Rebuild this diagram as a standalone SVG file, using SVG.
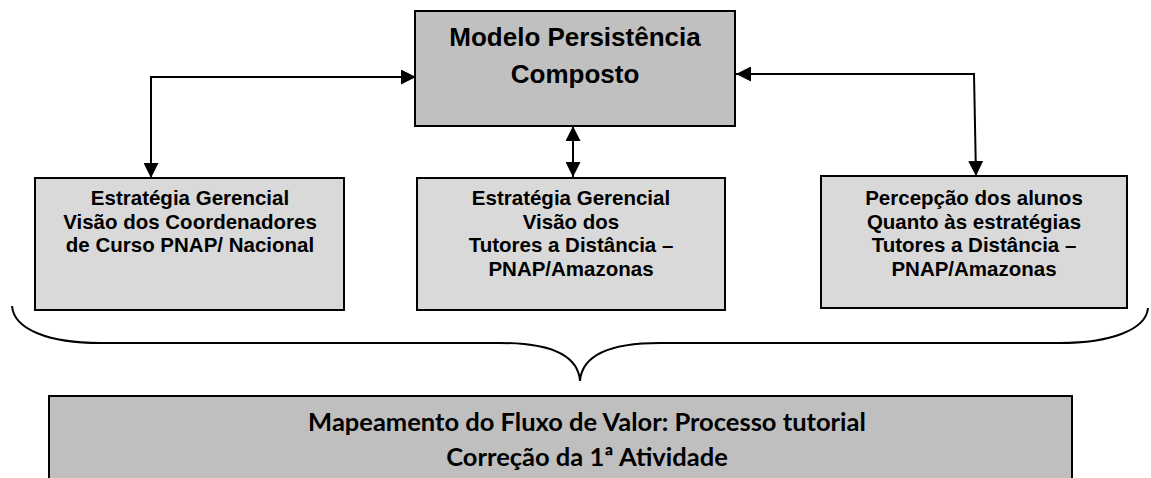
<svg xmlns="http://www.w3.org/2000/svg" width="1151" height="478" viewBox="0 0 1151 478">
<defs>
<style>
.box{stroke:#000;stroke-width:2}
.top{fill:#c0c0c0}
.mid{fill:#d9d9d9}
.bot{fill:#bfbfbf}
.t{font-family:'Liberation Sans',Arial,Helvetica,sans-serif;font-weight:bold;fill:#000;text-anchor:middle}
.tb{font-family:Lato,'Open Sans',sans-serif;font-weight:bold;fill:#000;text-anchor:middle;font-size:25.5px}
.ln{fill:none;stroke:#000;stroke-width:2}
</style>
<marker id="a" viewBox="0 0 10 10" refX="10" refY="5" markerWidth="15" markerHeight="15" markerUnits="userSpaceOnUse" orient="auto-start-reverse">
<path d="M0,0 L10,5 L0,10 z" fill="#000"/>
</marker>
</defs>
<g id="connectors">
<path class="ln" d="M151,178 L151,77 L416,77" marker-start="url(#a)" marker-end="url(#a)"/>
<path class="ln" d="M573,126 L573,177" marker-start="url(#a)" marker-end="url(#a)"/>
<path class="ln" d="M736,74 L974,74 L976,176" marker-start="url(#a)" marker-end="url(#a)"/>
<path class="ln" d="M12,306 C14,330 50,343 100,343 L500,343 C550,343 578,355 580,381 C582,355 610,343 660,343 L1060,343 C1110,343 1146,330 1148,308"/>
</g>
<g id="n-modelo">
<rect class="box top" x="415" y="11" width="320" height="115"/>
<text class="t" font-size="26" x="575" y="46">Modelo Persistência</text>
<text class="t" font-size="26" x="575" y="83">Composto</text>
</g>
<g id="n-coord">
<rect class="box mid" x="35" y="178" width="309" height="132"/>
<text class="t" font-size="20.5" x="190" y="205">Estratégia Gerencial</text>
<text class="t" font-size="20.5" x="190" y="228.5">Visão dos Coordenadores</text>
<text class="t" font-size="20.5" x="190" y="252">de Curso PNAP/ Nacional</text>
</g>
<g id="n-tutores">
<rect class="box mid" x="417" y="178" width="308" height="132"/>
<text class="t" font-size="20.5" x="571" y="205">Estratégia Gerencial</text>
<text class="t" font-size="20.5" x="571" y="228.5">Visão dos</text>
<text class="t" font-size="20.5" x="571" y="252">Tutores a Distância –</text>
<text class="t" font-size="20.5" x="571" y="275.5">PNAP/Amazonas</text>
</g>
<g id="n-alunos">
<rect class="box mid" x="821" y="176" width="306" height="132"/>
<text class="t" font-size="20.5" x="974" y="205">Percepção dos alunos</text>
<text class="t" font-size="20.5" x="974" y="228.5">Quanto às estratégias</text>
<text class="t" font-size="20.5" x="974" y="252">Tutores a Distância –</text>
<text class="t" font-size="20.5" x="974" y="275.5">PNAP/Amazonas</text>
</g>
<g id="n-mapeamento">
<rect class="box bot" x="49" y="396" width="1023" height="100"/>
<text class="tb" x="587" y="431">Mapeamento do Fluxo de Valor: Processo tutorial</text>
<text class="tb" x="587" y="466">Correção da 1ª Atividade</text>
</g>
</svg>
